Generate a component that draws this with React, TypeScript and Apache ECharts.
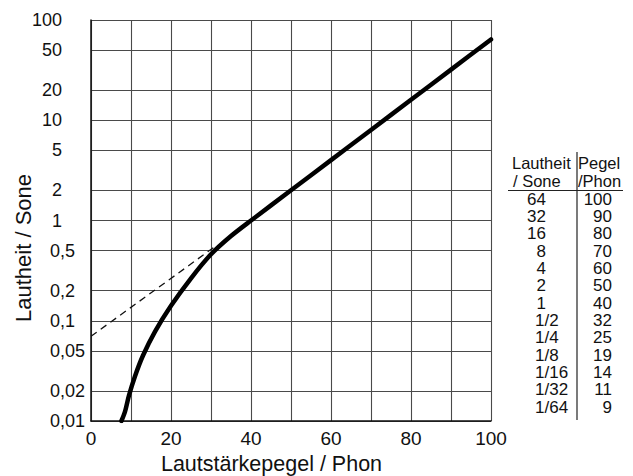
import React, { useEffect, useRef } from "react";
import * as echarts from "echarts";

// Curve: loudness level (phon) vs loudness (sone)
const curvePhon = [7.6, 8.5, 9.5, 11, 13, 16, 20, 25, 30, 35, 40, 50, 60, 70, 80, 90, 100];
const curveSone = [0.01, 0.0124, 0.018, 0.028, 0.045, 0.078, 0.141, 0.265, 0.46, 0.7, 1, 2, 4, 8, 16, 32, 64];

// Dashed extension of the straight-line law below 40 phon
const dashPhon = [0, 31];
const dashSone = [0.07, 0.55];

// Y tick labels (sone, log scale)
const yTickValues = [0.01, 0.02, 0.05, 0.1, 0.2, 0.5, 1, 2, 5, 10, 20, 50, 100];
const yTickLabels = ["0,01", "0,02", "0,05", "0,1", "0,2", "0,5", "1", "2", "5", "10", "20", "50", "100"];

// X ticks
const xTickLabels = [0, 20, 40, 60, 80, 100];

// Table
const tableHeaderLeft = ["Lautheit", "/ Sone"];
const tableHeaderRight = ["Pegel", "/Phon"];
const tableSone = ["64", "32", "16", "8", "4", "2", "1", "1/2", "1/4", "1/8", "1/16", "1/32", "1/64"];
const tablePhon = ["100", "90", "80", "70", "60", "50", "40", "32", "25", "19", "14", "11", "9"];

const FONT = "'Liberation Sans', Arial, Helvetica, sans-serif";

export default function App() {
  const ref = useRef<HTMLDivElement>(null);

  useEffect(() => {
    if (!ref.current) return;
    const chart = echarts.init(ref.current, undefined, { renderer: "svg" });

    const logTicks = yTickValues.map((v) => Math.log10(v));

    const curveData = curvePhon.map((p, i) => [p, Math.log10(curveSone[i])]);
    const dashData = dashPhon.map((p, i) => [p, Math.log10(dashSone[i])]);

    const graphics: any[] = [];
    const rowY0 = 199;
    const rowStep = 17.35;
    const hdrFont = `16.5px ${FONT}`;
    graphics.push(
      { type: "text", x: 512, y: 163, style: { text: tableHeaderLeft[0], font: hdrFont, fill: "#111", verticalAlign: "middle" } },
      { type: "text", x: 513, y: 180.5, style: { text: tableHeaderLeft[1], font: hdrFont, fill: "#111", verticalAlign: "middle" } },
      { type: "text", x: 578, y: 163, style: { text: tableHeaderRight[0], font: hdrFont, fill: "#111", verticalAlign: "middle" } },
      { type: "text", x: 578, y: 180.5, style: { text: tableHeaderRight[1], font: hdrFont, fill: "#111", verticalAlign: "middle" } },
      { type: "line", shape: { x1: 508, y1: 190.5, x2: 623, y2: 190.5 }, style: { stroke: "#222", lineWidth: 1.2 } },
      { type: "line", shape: { x1: 577, y1: 152, x2: 577, y2: 420 }, style: { stroke: "#222", lineWidth: 1.2 } }
    );
    tableSone.forEach((s, i) => {
      const isFrac = s.indexOf("/") >= 0;
      graphics.push({
        type: "text",
        x: isFrac ? 535 : 546,
        y: rowY0 + i * rowStep,
        style: {
          text: s,
          font: `17px ${FONT}`,
          fill: "#111",
          align: isFrac ? "left" : "right",
          verticalAlign: "middle",
        },
      });
      graphics.push({
        type: "text",
        x: 612,
        y: rowY0 + i * rowStep,
        style: {
          text: tablePhon[i],
          font: `17px ${FONT}`,
          fill: "#111",
          align: "right",
          verticalAlign: "middle",
        },
      });
    });

    chart.setOption({
      animation: false,
      backgroundColor: "#fff",
      grid: { left: 91, top: 20, right: 142, bottom: 55, containLabel: false, outerBoundsMode: "none" },
      xAxis: {
        type: "value",
        min: 0,
        max: 100,
        interval: 10,
        name: "Lautstärkepegel / Phon",
        nameLocation: "middle",
        nameGap: 32,
        nameMoveOverlap: false,
        nameTextStyle: { fontFamily: FONT, fontSize: 21.5, color: "#111", padding: [0, 39, 0, 0] },
        axisLine: { show: true, onZero: false, lineStyle: { color: "#111", width: 1.5 } },
        axisTick: { show: false },
        axisLabel: {
          margin: 8,
          fontFamily: FONT,
          fontSize: 19,
          color: "#111",
          formatter: (v: number) => (xTickLabels.indexOf(Math.round(v)) >= 0 && Math.abs(v - Math.round(v)) < 1e-6 ? String(Math.round(v)) : ""),
        },
        splitLine: { show: true, lineStyle: { color: "#4a4a4a", width: 1.1 } },
      },
      yAxis: {
        type: "value",
        min: -2,
        max: 2,
        position: "left",
        name: "Lautheit / Sone",
        nameLocation: "middle",
        nameGap: 57,
        nameMoveOverlap: false,
        nameTextStyle: { fontFamily: FONT, fontSize: 22, color: "#111", padding: [0, 55, 0, 0] },
        axisLine: { show: true, onZero: false, lineStyle: { color: "#111", width: 1.5 } },
        axisTick: { show: false, customValues: logTicks },
        axisLabel: { show: false, customValues: logTicks },
        splitLine: { show: true, lineStyle: { color: "#4a4a4a", width: 1.1 } },
      },
      series: [
        {
          type: "line",
          data: dashData,
          symbol: "none",
          lineStyle: { color: "#111", width: 1.3, type: [7, 5] },
          z: 3,
        },
        {
          type: "line",
          data: curveData,
          symbol: "none",
          smooth: 0.3,
          lineStyle: { color: "#000", width: 4.5, cap: "round" },
          z: 4,
        },
      ],
      graphic: graphics,
    });

    // Y tick labels placed through the axis scale: integers right-aligned, decimals left-aligned
    const yLabelTexts = yTickValues.map((v, i) => {
      const py = chart.convertToPixel({ yAxisIndex: 0 }, Math.log10(v)) as number;
      const isInt = v >= 1;
      return {
        type: "text",
        x: isInt ? 62 : 50,
        y: py,
        style: {
          text: yTickLabels[i],
          font: `18px ${FONT}`,
          fill: "#111",
          align: isInt ? "right" : "left",
          verticalAlign: "middle",
        },
      };
    });
    chart.setOption({ graphic: [...graphics, ...yLabelTexts] });

    return () => chart.dispose();
  }, []);

  return (
    <div
      ref={ref}
      style={{ position: "fixed", left: 0, top: 0, width: 633, height: 476, background: "#fff" }}
    />
  );
}
